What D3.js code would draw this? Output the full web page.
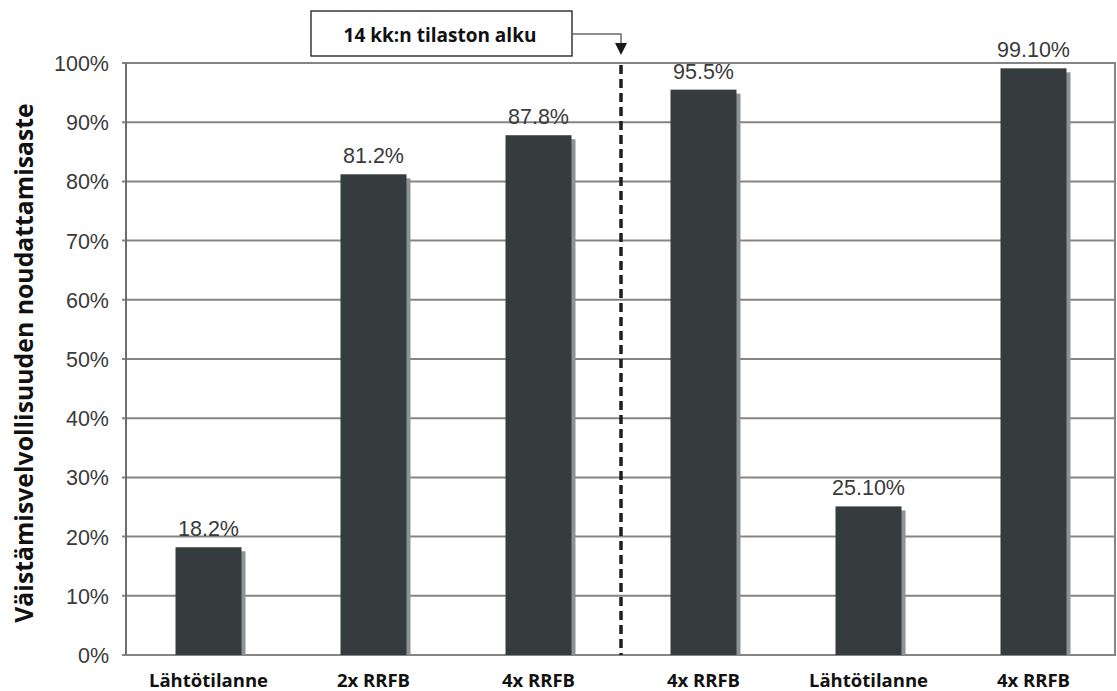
<!DOCTYPE html>
<html>
<head>
<meta charset="utf-8">
<script src="https://cdn.jsdelivr.net/npm/d3@7"></script>
<style>
  html, body { margin: 0; padding: 0; background: #fff; }
  svg { display: block; }
</style>
</head>
<body>
<svg id="chart" width="1117" height="691"></svg>
<script>
// Väistämisvelvollisuuden noudattamisaste eri vaiheissa
const categories = ["Lähtötilanne", "2x RRFB", "4x RRFB", "4x RRFB", "Lähtötilanne", "4x RRFB"];
const values = [18.2, 81.2, 87.8, 95.5, 25.1, 99.1];
const valueLabels = ["18.2%", "81.2%", "87.8%", "95.5%", "25.10%", "99.10%"];
const yTicks = [0, 10, 20, 30, 40, 50, 60, 70, 80, 90, 100];
const yTitle = "Väistämisvelvollisuuden noudattamisaste";
const noteText = "14 kk:n tilaston alku";
const splitAfter = 3; // the 14-month statistics start before this category index

const svg = d3.select("#chart");
const plotLeft = 126, plotRight = 1116, plotTop = 63, plotBottom = 655;

const x = d3.scaleBand()
  .domain(d3.range(categories.length))
  .range([plotLeft, plotRight])
  .paddingInner(0.6)
  .paddingOuter(0.3);

const y = d3.scaleLinear().domain([0, 100]).range([plotBottom, plotTop]);

// gridlines
svg.append("g")
  .selectAll("line")
  .data(yTicks)
  .join("line")
  .attr("x1", plotLeft - 4)
  .attr("x2", plotRight)
  .attr("y1", d => y(d))
  .attr("y2", d => y(d))
  .attr("stroke", "#858585")
  .attr("stroke-width", 2);

// frame: left axis and right edge
svg.append("line")
  .attr("x1", plotLeft).attr("x2", plotLeft)
  .attr("y1", plotTop).attr("y2", plotBottom)
  .attr("stroke", "#6e6e6e").attr("stroke-width", 2);
svg.append("line")
  .attr("x1", plotRight - 1).attr("x2", plotRight - 1)
  .attr("y1", plotTop).attr("y2", plotBottom)
  .attr("stroke", "#858585").attr("stroke-width", 2);

// y tick labels
const yAxis = d3.axisLeft(y).tickValues(yTicks).tickFormat(d => d + "%").tickSize(0).tickPadding(17);
const ya = svg.append("g").attr("transform", `translate(${plotLeft},0)`).call(yAxis);
ya.select(".domain").remove();
ya.selectAll("text")
  .attr("font-family", "Liberation Sans, Arial, sans-serif")
  .attr("font-size", 21.5)
  .attr("fill", "#3a3a3a")
  .attr("dy", "0.35em");

// bar shadows
svg.append("g")
  .selectAll("rect")
  .data(values)
  .join("rect")
  .attr("x", (d, i) => x(i) + 4)
  .attr("y", d => y(d) + 4)
  .attr("width", x.bandwidth())
  .attr("height", d => plotBottom - y(d) - 4)
  .attr("fill", "#8d9496");

// bars
svg.append("g")
  .selectAll("rect")
  .data(values)
  .join("rect")
  .attr("x", (d, i) => x(i))
  .attr("y", d => y(d))
  .attr("width", x.bandwidth())
  .attr("height", d => plotBottom - y(d))
  .attr("fill", "#363c3e");

// value labels
svg.append("g")
  .selectAll("text")
  .data(values)
  .join("text")
  .attr("x", (d, i) => x(i) + x.bandwidth() / 2)
  .attr("y", d => y(d) - 11)
  .attr("text-anchor", "middle")
  .attr("font-family", "Liberation Sans, Arial, sans-serif")
  .attr("font-size", 21.5)
  .attr("fill", "#3a3a3a")
  .text((d, i) => valueLabels[i]);

// category labels
svg.append("g")
  .selectAll("text")
  .data(categories)
  .join("text")
  .attr("x", (d, i) => x(i) + x.bandwidth() / 2)
  .attr("y", 687)
  .attr("text-anchor", "middle")
  .attr("font-family", "Open Sans, sans-serif")
  .attr("font-weight", "bold")
  .attr("font-size", 18.5)
  .attr("fill", "#111")
  .text(d => d);

// y axis title
svg.append("text")
  .attr("transform", "translate(33,363) rotate(-90)")
  .attr("text-anchor", "middle")
  .attr("font-family", "Open Sans, sans-serif")
  .attr("font-weight", "bold")
  .attr("font-size", 24.8)
  .attr("fill", "#111")
  .text(yTitle);

// dashed divider at the start of the 14-month statistics
const splitX = x(splitAfter) - x.step() * x.paddingInner() / 2;
svg.append("line")
  .attr("x1", splitX).attr("x2", splitX)
  .attr("y1", plotTop + 2).attr("y2", plotBottom)
  .attr("stroke", "#1e1e1e")
  .attr("stroke-width", 3.5)
  .attr("stroke-dasharray", "9,5");

// annotation box
const box = { x: 311, y: 11, w: 261, h: 45 };
svg.append("rect")
  .attr("x", box.x).attr("y", box.y)
  .attr("width", box.w).attr("height", box.h)
  .attr("fill", "#fff")
  .attr("stroke", "#1a1a1a")
  .attr("stroke-width", 1.3);
svg.append("text")
  .attr("x", 440)
  .attr("y", 42)
  .attr("text-anchor", "middle")
  .attr("font-family", "Open Sans, sans-serif")
  .attr("font-weight", "bold")
  .attr("font-size", 19)
  .attr("fill", "#111")
  .text(noteText);

// connector and arrowhead
svg.append("path")
  .attr("d", `M${box.x + box.w},34 H${splitX} V44`)
  .attr("fill", "none")
  .attr("stroke", "#6a6a6a")
  .attr("stroke-width", 1.5);
svg.append("path")
  .attr("d", `M${splitX - 6},43 L${splitX + 6},43 L${splitX},55 Z`)
  .attr("fill", "#1a1a1a");
</script>
</body>
</html>
